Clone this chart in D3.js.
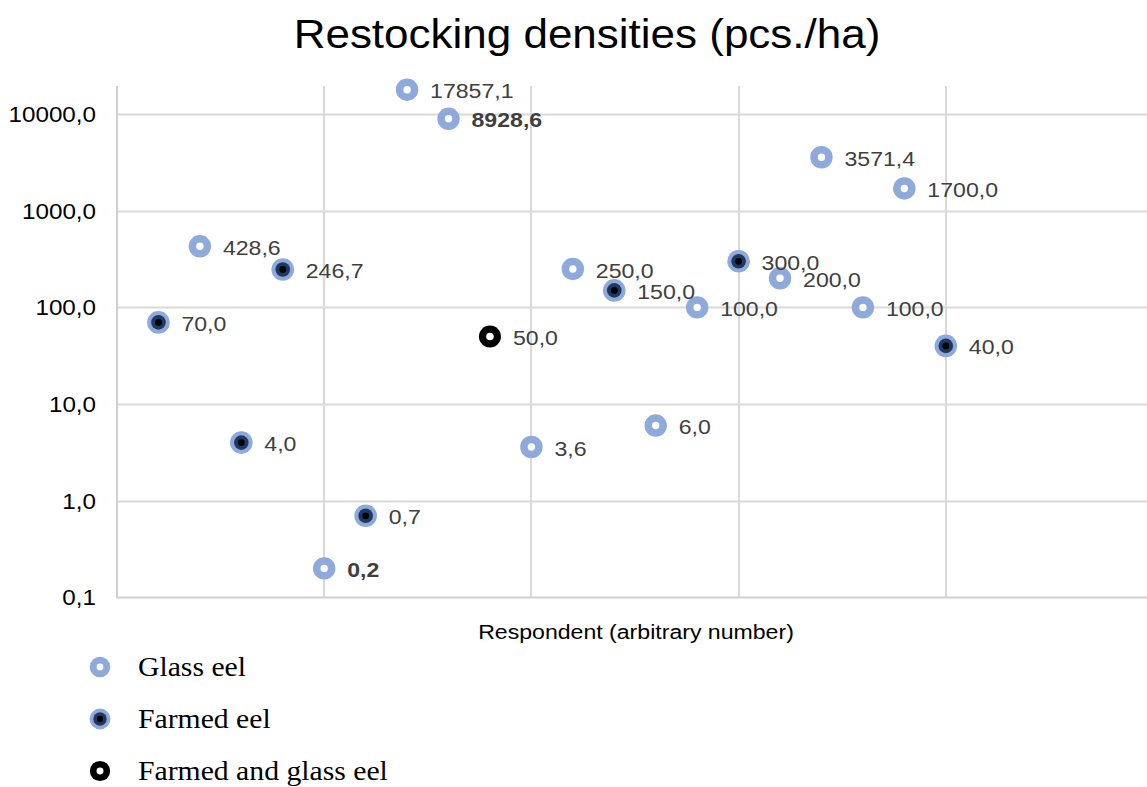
<!DOCTYPE html>
<html><head><meta charset="utf-8">
<script src="https://cdn.jsdelivr.net/npm/d3@7"></script>
<style>body{margin:0;background:#fff}svg{display:block}</style>
</head><body>
<svg id="c" width="1147" height="787"></svg>
<script>
const respondents = [1,2,3,4,5,6,7,8,9,10,11,12,13,14,15,16,17,18,19,20];
const densities = [70.0,428.6,4.0,246.7,0.2,0.7,17857.1,8928.6,50.0,3.6,250.0,150.0,6.0,100.0,300.0,200.0,3571.4,100.0,1700.0,40.0];
const types = ["F","G","F","F","G","F","G","G","B","G","G","F","G","G","F","G","G","G","G","F"];
const boldLabels = [5,8];
const yTicks = [0.1,1,10,100,1000,10000];
const xGrid = [5,10,15,20,25];
const legendItems = [["G","Glass eel"],["F","Farmed eel"],["B","Farmed and glass eel"]];

const SX = 1.1; // horizontal text stretch
const svg = d3.select("#c");
const x = d3.scaleLinear().domain([0,25]).range([117,1153]);
const y = d3.scaleLog().domain([0.1, Math.pow(10,4.29)]).range([597.5,86]);
const fmt = v => v.toFixed(1).replace(".", ",");
const SANS = "Liberation Sans, Arial, sans-serif";

// grid
svg.append("g").selectAll("line").data(yTicks.slice(1)).join("line")
  .attr("x1",117).attr("x2",1147).attr("y1",d=>Math.round(y(d))+0.5).attr("y2",d=>Math.round(y(d))+0.5)
  .attr("stroke","#d9d9d9").attr("stroke-width",2);
svg.append("g").selectAll("line").data(xGrid).join("line")
  .attr("x1",d=>Math.round(x(d))).attr("x2",d=>Math.round(x(d))).attr("y1",86).attr("y2",597)
  .attr("stroke","#d9d9d9").attr("stroke-width",2);
// axes lines
svg.append("line").attr("x1",117).attr("x2",117).attr("y1",86).attr("y2",598).attr("stroke","#d0d0d0").attr("stroke-width",2);
svg.append("line").attr("x1",116).attr("x2",1147).attr("y1",597.5).attr("y2",597.5).attr("stroke","#d0d0d0").attr("stroke-width",2);

// y tick labels
svg.append("g").selectAll("text").data(yTicks).join("text")
  .attr("transform",d=>`translate(96,${y(d)}) scale(${SX},1)`)
  .attr("dy","0.36em").attr("text-anchor","end")
  .attr("font-family",SANS).attr("font-size",22).attr("fill","#000").text(fmt);

// title
svg.append("text").attr("transform",`translate(587,48) scale(${SX},1)`).attr("text-anchor","middle")
  .attr("font-family",SANS).attr("font-size",40).attr("fill","#000")
  .text("Restocking densities (pcs./ha)");
svg.append("text").attr("transform",`translate(636,639) scale(${SX},1)`).attr("text-anchor","middle")
  .attr("font-family",SANS).attr("font-size",21).attr("fill","#000")
  .text("Respondent (arbitrary number)");

function marker(g, t, s) {
  s = s || 1;
  if (t === "G") {
    g.append("circle").attr("r",11.2*s).attr("fill","#8eaadb");
    g.append("circle").attr("r",3.7*s).attr("fill","#fff");
  } else if (t === "F") {
    g.append("circle").attr("r",11.3*s).attr("fill","#8eaadb");
    g.append("circle").attr("r",7.3*s).attr("fill","#1f3864");
    g.append("circle").attr("r",3.4*s).attr("fill","#000");
  } else {
    g.append("circle").attr("r",11*s).attr("fill","#000");
    g.append("circle").attr("r",3.8*s).attr("fill","#fff");
  }
}

const data = respondents.map((r,i)=>({r, v:densities[i], t:types[i]}));
const pts = svg.append("g").selectAll("g").data(data).join("g")
  .attr("transform",d=>`translate(${x(d.r)},${y(d.v)})`);
pts.each(function(d){ marker(d3.select(this), d.t); });
svg.append("g").selectAll("text").data(data).join("text")
  .attr("transform",d=>`translate(${x(d.r)+23},${y(d.v)+1}) scale(${SX},1)`).attr("dy","0.36em")
  .attr("font-family",SANS).attr("font-size",21)
  .attr("font-weight",d=>boldLabels.includes(d.r)?"bold":"normal")
  .attr("fill","#404040").text(d=>fmt(d.v));

// legend
const lg = svg.append("g").selectAll("g").data(legendItems).join("g")
  .attr("transform",(d,i)=>`translate(100,${667+i*52})`);
lg.each(function(d){ marker(d3.select(this), d[0], 0.92); });
lg.append("text").attr("transform",`translate(38,0) scale(${SX},1)`).attr("dy","0.33em")
  .attr("font-family","Liberation Serif, Times New Roman, serif").attr("font-size",27).attr("fill","#000")
  .text(d=>d[1]);
</script>
</body></html>
